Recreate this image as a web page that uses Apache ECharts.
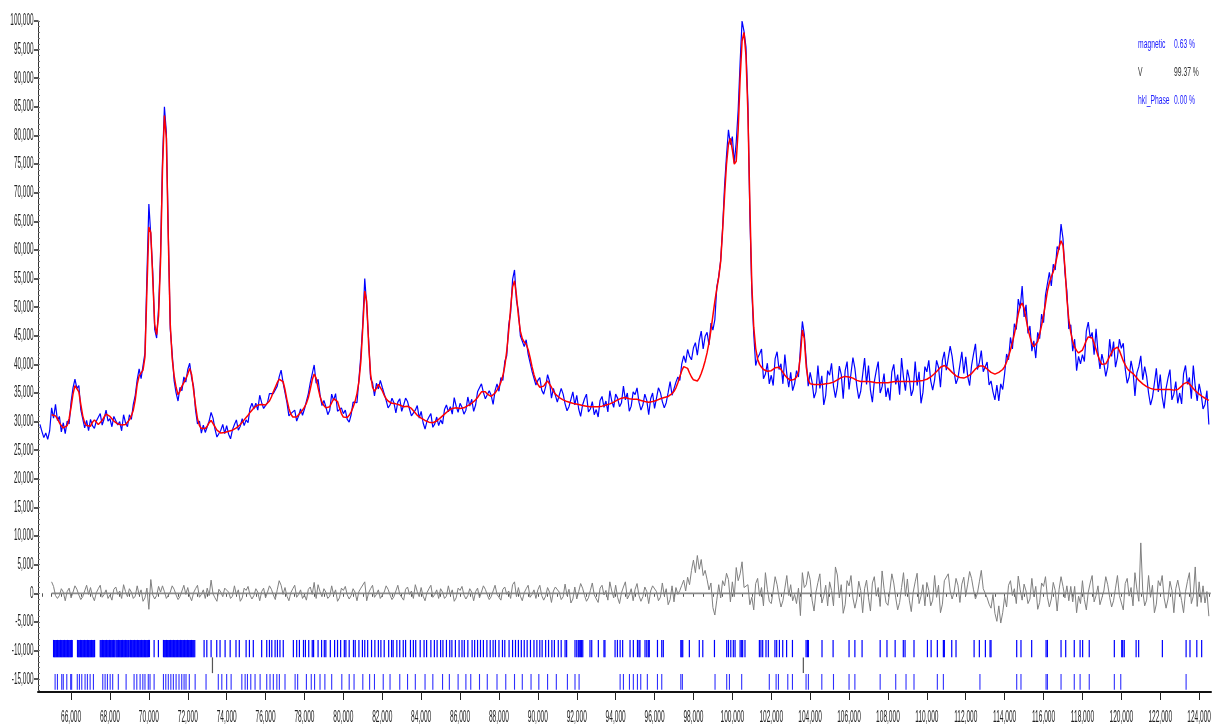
<!DOCTYPE html>
<html>
<head>
<meta charset="utf-8">
<script src="https://cdn.jsdelivr.net/npm/echarts@6/dist/echarts.min.js"></script>
<style>
html,body{margin:0;padding:0;background:#fff;}
#chart{width:1213px;height:725px;}
</style>
</head>
<body>
<div id="chart"></div>
<script>
// ---- DATA (intensity in thousands of counts, 2theta in degrees) ----
const OBS_START = 64.4, CALC_START = 65.0, STEP = 0.1;
const observed = [
29.5,28.3,27.2,28.0,26.9,28.4,
32.4,30.6,33.0,30.2,30.9,28.2,29.8,27.9,30.1,29.6,
33.4,35.9,37.4,35.8,36.3,32.1,31.8,28.9,30.2,28.4,
30.4,29.3,28.8,30.1,30.4,31.4,29.4,30.5,32.0,30.1,
30.5,29.1,30.9,31.1,29.4,30.0,28.4,31.2,29.8,29.1,
31.2,30.4,33.0,34.6,37.3,39.2,37.5,39.8,42.0,55.5,
68.0,62.5,56.2,46.1,44.6,49.8,59.0,75.5,85.0,80.5,
62.8,46.2,41.9,37.1,35.0,33.6,36.0,35.4,37.8,36.9,
39.1,40.2,37.6,36.1,32.0,29.6,30.1,28.0,29.4,28.1,
28.4,30.1,31.6,30.6,28.7,27.3,27.6,28.5,29.5,27.9,
29.3,27.8,27.0,28.6,29.5,30.3,28.5,29.2,30.5,29.3,
30.3,29.8,32.3,33.2,32.2,33.2,32.0,34.6,33.3,32.3,
32.1,33.3,34.9,35.0,34.9,34.9,36.2,37.8,39.0,36.8,
36.6,33.3,31.0,31.4,31.6,32.0,30.1,31.0,32.2,31.1,
32.2,32.0,34.9,36.8,37.1,39.9,36.7,37.4,34.7,32.8,
33.7,32.6,31.2,32.0,34.8,33.7,34.9,31.8,31.5,32.4,
31.4,32.0,30.4,29.9,31.2,33.4,33.7,33.3,37.4,41.6,
47.2,55.0,50.2,44.3,37.5,36.8,34.5,36.7,35.7,37.2,
36.0,36.0,33.7,32.4,32.9,34.1,33.3,31.5,33.4,34.0,
31.8,32.9,34.1,33.5,32.2,31.0,31.2,32.0,32.8,30.6,
31.8,29.8,28.7,30.1,30.8,31.4,29.0,29.6,30.8,29.3,
30.3,29.6,32.1,32.9,31.7,32.6,31.3,34.2,32.7,31.6,
33.2,32.5,31.3,32.0,34.3,32.7,33.9,31.8,32.9,35.2,
35.3,36.6,35.1,34.0,34.3,35.4,34.6,33.0,35.4,36.6,
35.3,37.7,37.2,40.5,41.5,46.8,49.0,54.8,56.5,51.2,
49.3,45.0,45.3,43.1,44.3,41.8,42.0,38.8,39.0,36.4,
37.2,37.7,35.5,34.8,36.1,38.2,37.0,34.1,35.8,36.1,
33.4,34.6,35.8,34.8,33.1,31.9,32.6,33.9,35.2,32.9,
34.6,32.2,30.9,32.9,34.0,34.8,31.7,32.2,33.5,31.2,
32.1,30.8,33.7,34.4,32.5,33.6,31.7,35.4,33.6,32.5,
34.8,34.1,32.6,33.3,36.2,33.8,35.0,31.8,32.7,35.2,
34.7,35.9,33.4,32.0,32.9,34.8,33.7,31.2,34.0,35.0,
32.3,34.1,35.9,35.1,33.5,32.4,33.3,35.1,37.0,34.6,
34.8,36.9,37.8,37.2,40.1,41.5,40.3,42.6,41.4,40.8,
42.9,43.8,41.6,44.2,45.8,42.7,44.9,45.6,43.4,47.2,
46.0,47.8,53.5,55.4,58.2,63.8,71.2,76.5,81.0,78.4,
79.8,75.2,78.8,84.5,92.8,100.0,98.2,95.5,85.6,66.2,
53.0,45.3,39.8,41.1,41.8,42.7,37.5,38.3,40.2,36.6,
38.1,36.3,41.0,42.2,39.1,40.1,36.6,41.7,38.3,36.0,
38.6,35.4,36.6,38.9,37.8,42.8,47.5,45.2,40.6,36.2,
38.6,36.9,34.1,35.2,39.8,35.8,38.0,32.9,34.6,38.9,
38.1,40.2,36.2,34.2,36.1,39.7,38.2,34.0,38.9,40.5,
35.6,38.4,41.2,39.3,36.2,34.0,35.3,38.2,41.1,36.5,
39.8,35.5,33.4,37.0,38.9,40.5,35.0,36.1,38.4,34.3,
35.9,33.7,38.7,40.0,36.5,38.2,34.7,41.1,37.7,35.4,
39.1,37.5,34.5,35.6,40.5,36.3,38.7,33.2,35.1,39.6,
38.7,40.7,37.1,35.5,37.3,40.7,39.5,36.0,40.7,42.2,
39.0,41.1,43.2,41.4,38.7,36.6,37.6,39.9,42.2,38.4,
41.3,37.9,36.3,39.8,41.8,43.6,39.1,40.3,42.4,38.7,
38.7,40.4,36.4,37.1,35.2,33.8,36.4,33.6,36.6,35.6,
38.4,41.8,40.8,44.7,42.7,47.1,46.1,51.4,49.8,53.7,
48.3,50.4,45.4,46.7,42.3,44.1,41.1,45.6,44.5,48.8,
47.3,52.1,52.4,56.1,53.7,57.5,56.5,60.6,60.0,64.5,
62.0,56.0,52.8,46.2,46.9,42.3,44.4,38.9,41.4,40.1,
41.7,40.5,45.8,47.4,44.6,45.6,41.7,46.2,42.1,39.2,
41.8,40.2,37.9,39.5,44.4,41.4,44.0,39.5,41.2,44.4,
42.8,43.7,39.2,36.7,37.8,40.6,38.8,34.5,38.5,39.6,
41.5,37.3,39.6,37.9,35.0,32.9,34.2,36.7,39.3,35.2,
38.2,34.3,32.3,35.8,37.6,39.1,33.8,34.8,37.0,33.2,
35.0,33.1,38.4,39.8,36.5,37.7,34.0,39.8,36.1,33.6,
36.6,34.9,32.2,33.0,35.4,29.5
];
const calculated = [
31.2,31.2,31.0,30.5,29.8,29.3,28.9,28.8,29.3,30.5,
32.5,34.8,36.3,36.4,35.2,33.0,31.0,29.8,29.3,29.0,
29.2,29.9,30.3,30.0,29.5,29.8,30.2,30.8,31.3,31.2,
30.9,30.5,30.1,29.8,29.6,29.5,29.4,29.4,29.5,29.8,
30.3,31.0,32.0,33.8,36.5,38.0,38.2,39.0,41.3,53.0,
64.0,63.0,55.0,47.0,45.2,48.5,58.0,74.0,83.5,79.5,
62.0,47.0,41.0,38.0,36.0,34.7,35.3,36.2,36.8,37.5,
38.3,39.3,38.2,35.5,32.8,30.5,29.3,28.8,28.7,28.8,
29.2,29.8,30.2,29.9,29.1,28.5,28.2,28.0,28.0,28.1,
28.2,28.3,28.4,28.5,28.7,28.9,29.2,29.5,29.9,30.3,
30.7,31.1,31.6,32.0,32.4,32.7,32.9,33.0,33.0,32.9,
32.9,33.1,33.6,34.3,35.2,36.0,36.8,37.4,37.6,37.0,
35.6,33.8,32.3,31.3,30.8,30.6,30.8,31.2,31.6,32.0,
32.5,33.2,34.2,35.7,37.3,38.3,37.6,35.9,34.4,33.4,
32.8,32.4,32.3,32.6,33.3,34.0,34.2,33.5,32.4,31.4,
30.8,30.6,30.7,31.1,31.7,32.5,33.5,34.9,37.0,40.5,
46.5,52.8,51.0,43.5,38.3,36.0,35.3,35.8,36.5,36.3,
35.4,34.6,34.0,33.6,33.4,33.2,33.1,33.1,33.0,32.9,
32.7,32.6,32.6,32.7,32.6,32.3,31.9,31.5,31.1,30.8,
30.6,30.4,30.2,30.0,29.9,29.8,29.8,29.9,30.1,30.4,
30.7,31.0,31.3,31.6,31.9,32.1,32.3,32.4,32.4,32.3,
32.3,32.3,32.4,32.6,32.8,33.0,33.2,33.5,33.8,34.2,
34.7,35.2,35.4,35.2,34.8,34.5,34.4,34.6,35.0,35.5,
36.1,36.9,38.0,39.7,42.3,45.8,49.8,53.5,54.6,52.0,
48.5,45.8,44.5,43.9,43.5,42.6,41.2,39.6,38.2,37.2,
36.5,36.0,35.9,36.2,36.7,37.1,36.8,36.0,35.3,34.8,
34.5,34.2,34.0,33.8,33.6,33.5,33.4,33.3,33.2,33.1,
33.0,33.0,32.9,32.8,32.8,32.7,32.7,32.6,32.6,32.6,
32.6,32.6,32.7,32.7,32.8,32.9,33.0,33.1,33.2,33.4,
33.6,33.8,34.0,34.1,34.2,34.2,34.1,34.0,33.9,33.9,
33.9,33.9,33.8,33.7,33.6,33.5,33.4,33.4,33.4,33.5,
33.6,33.7,33.8,34.0,34.1,34.2,34.3,34.4,34.6,34.9,
35.3,35.9,36.8,37.9,38.9,39.6,39.8,39.3,38.5,37.8,
37.3,37.0,37.1,37.6,38.4,39.4,40.6,42.0,43.8,46.0,
48.5,51.0,53.2,55.2,58.0,63.5,69.5,75.0,78.5,79.5,
77.5,75.0,75.5,81.0,90.0,96.5,98.0,94.0,84.0,68.0,
54.0,46.5,42.8,40.9,40.0,39.5,39.1,38.9,38.8,38.8,
38.9,39.1,39.4,39.6,39.5,39.1,38.6,38.1,37.7,37.4,
37.2,37.2,37.4,37.8,38.7,41.5,46.0,44.5,39.5,37.3,
36.6,36.5,36.5,36.5,36.5,36.5,36.5,36.6,36.6,36.7,
36.7,36.8,36.9,37.1,37.3,37.5,37.7,37.8,37.9,37.9,
37.8,37.7,37.6,37.4,37.2,37.1,37.0,37.0,37.0,37.0,
37.0,36.9,36.9,36.8,36.8,36.8,36.8,36.8,36.8,36.8,
36.8,36.9,36.9,37.0,37.0,37.0,37.0,37.0,37.0,37.0,
37.0,37.0,37.0,37.0,37.0,37.0,37.1,37.1,37.2,37.3,
37.4,37.6,37.8,38.1,38.4,38.7,39.1,39.5,39.8,39.8,
39.6,39.3,39.0,38.6,38.3,38.0,37.8,37.7,37.6,37.6,
37.7,37.9,38.1,38.4,38.8,39.2,39.5,39.7,39.8,39.7,
39.5,39.2,38.9,38.6,38.4,38.3,38.4,38.6,38.8,39.1,
39.6,40.4,41.4,42.5,43.8,45.3,47.0,48.8,50.2,50.7,
49.8,48.0,46.2,44.8,43.7,43.1,43.2,44.0,45.3,46.8,
48.5,50.6,52.8,54.3,55.3,56.2,57.4,58.9,60.5,61.6,
60.8,57.0,51.5,47.8,45.6,44.0,43.0,42.4,42.0,42.0,
42.5,43.3,44.2,44.8,45.0,44.6,43.7,42.6,41.5,40.6,
40.0,39.8,40.1,40.7,41.4,42.0,42.6,42.9,43.0,42.4,
41.5,40.6,39.9,39.3,38.9,38.6,38.4,38.0,37.6,37.2,
36.9,36.6,36.3,36.1,35.9,35.8,35.7,35.6,35.6,35.6,
35.6,35.6,35.6,35.6,35.6,35.6,35.6,35.5,35.5,35.6,
35.9,36.2,36.6,36.9,36.9,36.6,36.2,35.8,35.4,35.1,
34.8,34.6,34.3,34.1,33.9,33.7
];
const difference = [
2.0,1.2,-0.4,-0.9,-0.4,0.8,0.2,-1.3,0.3,0.9,
-0.8,0.2,1.3,0.7,-0.3,-1.1,-0.6,0.4,1.4,-0.2,
1.0,-0.5,-1.3,0.1,0.8,1.4,-0.7,-0.2,0.6,-0.9,
-0.3,-1.2,0.7,1.1,-0.2,0.4,-0.9,1.5,0.3,-0.6,
0.8,0.2,-0.9,-0.5,1.3,-0.3,0.6,-1.4,-0.8,0.9,
-2.8,2.4,-0.3,-1.0,-0.4,1.2,0.2,1.3,0.3,-0.9,
-0.8,0.2,1.3,0.7,-0.3,-1.1,-0.6,0.4,1.4,-0.2,
1.0,-0.5,-1.3,0.1,0.8,1.4,-0.7,-0.2,0.6,-0.9,
0.9,-0.4,2.3,-0.1,-0.8,-1.4,0.7,0.2,-0.6,0.9,
0.8,0.2,-0.9,-0.5,1.3,-0.3,0.6,-1.4,-0.8,0.9,
0.5,1.2,-0.3,-1.0,-0.4,0.8,0.2,-1.3,0.3,0.9,
-0.8,0.2,1.3,0.7,-0.3,-1.1,0.6,2.2,1.4,-0.2,
1.0,-0.5,-1.3,0.1,0.8,1.4,-0.7,-0.2,0.6,-0.9,
-0.3,-1.2,0.7,1.1,-0.2,1.9,-0.9,1.5,0.3,-0.6,
0.8,0.2,-0.9,-0.5,1.3,-0.3,0.6,-1.4,-0.8,0.9,
0.5,1.2,-0.3,-1.0,-0.4,0.8,0.2,-1.3,0.3,0.9,
0.9,2.0,-1.3,0.1,0.8,1.4,-0.7,-0.2,0.6,-0.9,
-0.8,0.2,1.3,0.7,-0.3,-1.1,-0.6,0.4,1.4,-0.2,
-0.3,-1.2,0.7,1.1,-0.2,0.4,-0.9,1.5,0.3,-0.6,
1.0,-0.5,-1.3,0.1,0.8,1.4,-0.7,-0.2,0.6,-0.9,
0.8,0.2,-0.9,-0.5,1.3,-0.3,0.6,-1.4,-0.8,0.9,
0.5,1.2,-0.3,-1.0,-0.4,0.8,0.2,-1.3,0.3,0.9,
-0.8,0.2,1.3,0.7,-0.3,-1.1,-0.6,0.4,1.4,-0.2,
-0.3,-1.2,0.7,1.1,-0.2,0.4,-0.9,1.5,2.0,-0.6,
1.0,-0.5,-1.3,0.1,0.8,1.4,-0.7,-0.2,0.6,-0.9,
0.6,1.4,-0.4,-1.2,-0.5,1.0,0.2,-1.6,0.4,1.1,
1.0,0.2,-1.1,-0.6,1.6,-0.4,0.7,-1.7,-1.0,1.1,
-1.0,0.3,1.7,0.9,-0.4,-1.4,-0.8,0.5,1.8,-0.3,
-0.4,-1.6,0.9,1.4,-0.3,0.5,-1.2,2.0,0.4,-0.8,
1.4,-0.7,-1.8,0.1,1.1,2.0,-1.0,-0.3,0.8,-1.3,
0.7,1.7,-0.4,-1.4,-0.6,1.1,0.3,-1.8,0.4,1.3,
1.1,0.3,-1.3,-0.7,1.8,-0.4,0.8,-2.0,-1.1,1.3,
-1.5,1.0,-0.2,0.5,1.4,2.3,0.4,2.8,1.5,4.0,
5.8,3.6,6.6,4.2,5.9,3.1,4.0,2.4,0.6,1.8,
-2.5,-3.8,-1.2,1.5,-0.8,2.2,1.3,3.5,2.4,-1.5,
2.0,-0.6,4.5,2.2,3.4,5.5,1.0,1.2,1.5,-2.0,
-0.7,-2.9,1.7,2.6,-0.5,1.0,-2.2,3.6,0.7,-1.4,
-1.8,0.4,2.9,1.5,-0.7,-2.4,-1.3,0.9,3.1,-0.4,
1.5,-1.3,-0.2,-1.8,0.9,-3.9,3.6,1.0,1.5,3.8,
2.4,-1.2,-3.1,0.2,1.9,3.4,-1.7,-0.5,1.4,-2.2,
2.0,0.5,-2.2,4.6,3.2,-0.8,1.5,-3.5,-2.0,2.2,
1.3,3.1,-0.8,-2.6,-1.0,2.1,0.5,-3.4,0.8,2.3,
-0.8,-3.1,1.8,2.9,-0.5,1.0,-2.3,3.9,0.8,-1.6,
-2.1,0.5,3.4,1.8,-0.8,-2.9,-1.6,1.0,3.6,-0.5,
2.5,-1.2,-3.2,0.2,2.0,3.5,-1.8,-0.5,1.5,-2.2,
1.9,0.5,-2.2,-1.2,3.1,-0.7,1.4,-3.4,-1.9,2.2,
2.0,3.4,0.4,-1.0,0.2,2.6,1.4,-1.6,1.6,2.8,
-0.4,1.6,3.8,2.6,0.6,-1.0,0.0,2.0,4.0,0.8,
1.0,-0.8,-1.9,-2.6,-0.2,-3.5,-4.9,-2.2,-5.2,-3.4,
-0.6,-2.4,1.4,2.2,-0.4,0.8,-1.8,3.0,0.6,-1.2,
1.6,0.4,-1.8,-1.0,2.6,-0.6,1.2,-2.8,-1.6,1.8,
1.2,2.9,-0.7,-2.4,-1.0,1.9,0.5,-3.1,0.7,2.9,
1.2,-0.8,1.3,-1.3,1.2,-1.5,1.2,-3.4,-0.5,-1.8,
2.2,-1.1,-2.9,0.2,1.8,3.1,-1.5,-0.4,1.3,-2.0,
-1.8,0.4,2.9,1.5,-0.7,-2.4,-1.3,0.9,3.1,-0.4,
-0.7,-2.9,1.7,2.6,-0.5,1.0,-2.2,3.6,0.7,-1.4,
8.8,0.5,-2.2,-1.2,3.1,-0.7,1.4,-3.4,-1.9,2.2,
1.3,3.1,-0.8,-2.6,-1.0,2.1,0.5,-3.4,0.8,2.3,
2.6,-1.3,-3.4,0.3,2.1,3.6,-1.8,-0.5,4.6,-2.3,
2.0,-1.6,1.3,-1.7,0.3,-4.0
];
// reflection (hkl) tick positions, 2theta
const hklMagnetic = [
65.10,65.14,65.18,65.22,65.26,65.30,65.34,65.38,65.42,65.46,65.50,65.54,65.58,65.62,65.66,65.70,65.74,65.78,65.82,65.86,65.90,65.94,65.98,66.02,66.06,
66.33,66.37,66.41,66.45,66.49,66.53,66.57,66.61,66.65,66.69,66.73,66.77,66.81,66.85,66.89,66.93,66.97,67.01,67.05,67.09,67.13,67.17,67.21,
67.50,67.54,67.58,67.62,67.66,67.70,67.74,67.78,67.82,67.86,67.90,67.94,67.98,68.02,68.06,68.10,68.14,68.18,68.22,68.26,68.32,68.36,68.40,68.44,68.48,68.52,68.56,68.60,68.64,68.68,68.72,68.76,68.80,68.84,68.88,68.92,68.96,69.02,69.06,69.10,69.14,69.18,69.22,69.26,69.30,69.34,69.38,69.42,69.46,69.50,69.54,69.58,69.62,69.66,69.70,69.74,69.78,69.82,69.86,69.90,69.94,69.98,70.03,
70.27,70.49,
70.75,70.79,70.83,70.87,70.91,70.95,70.99,71.03,71.07,71.11,71.15,71.19,71.23,71.27,71.31,71.35,71.39,71.43,71.47,71.51,71.55,71.59,71.63,71.67,71.71,71.75,71.79,71.83,71.87,71.91,71.95,71.99,72.03,72.07,72.11,72.15,72.19,72.23,72.27,72.31,72.36,
72.84,72.98,73.20,73.49,73.66,73.92,74.18,74.48,74.65,75.00,75.17,75.37,75.80,
76.06,76.20,76.32,76.49,76.61,76.74,76.91,77.43,77.60,77.74,
77.95,78.05,78.22,78.40,78.47,78.70,78.88,79.02,79.10,79.33,79.55,79.70,79.86,80.05,80.13,80.30,80.52,80.61,80.80,80.98,81.10,81.25,81.45,81.62,81.80,81.93,82.10,82.33,82.48,82.56,82.75,82.90,83.08,83.20,83.45,83.60,83.72,83.95,84.15,84.28,84.50,84.68,84.82,85.00,85.12,85.30,85.47,85.58,85.76,85.95,86.10,86.22,86.40,86.62,86.75,86.90,87.05,87.20,87.38,87.55,87.70,87.82,88.00,88.18,88.30,88.52,88.70,88.85,89.00,89.15,89.30,89.45,89.62,89.80,89.95,90.10,90.22,90.40,90.55,90.72,90.85,91.05,91.20,
91.40,91.48,91.91,92.00,92.08,92.13,92.20,92.25,92.31,92.68,92.77,93.11,93.40,93.45,93.97,94.09,94.23,94.36,94.74,94.91,95.12,95.20,95.25,95.51,95.60,95.68,95.73,96.15,96.37,96.45,97.35,97.40,97.45,97.79,98.30,98.48,99.08,99.71,99.80,99.92,100.05,100.14,100.40,100.48,100.53,100.65,101.39,101.47,101.56,101.73,101.85,102.19,102.28,102.42,102.59,102.79,103.09,103.79,103.86,103.91,
104.61,105.18,106.00,106.30,106.67,107.60,107.95,108.37,
108.79,108.88,109.34,110.03,110.22,110.54,110.85,110.90,111.28,111.50,112.43,112.70,113.01,113.25,113.30,114.62,114.84,115.39,116.13,116.20,116.90,117.14,117.58,117.88,118.01,118.35,119.64,120.02,120.07,120.15,120.76,120.89,122.11,123.33,123.53,123.88,124.13
];
const hklV = [73.27, 103.65];
const hklPhase = [
65.18,65.30,65.52,65.60,65.78,65.98,66.03,66.32,66.43,66.55,66.72,66.84,66.98,67.15,67.63,67.75,67.87,68.01,68.14,68.43,68.83,69.24,69.38,69.55,69.69,69.80,69.97,70.06,70.27,70.75,70.87,71.00,71.13,71.26,71.40,71.55,71.69,71.81,71.91,72.08,72.38,72.94,73.57,73.75,74.00,74.23,74.78,74.95,75.07,75.24,75.46,75.72,76.06,76.23,76.40,76.58,76.71,77.00,77.52,77.65,
78.10,78.35,78.52,78.80,79.05,79.40,79.92,80.30,80.55,81.00,81.35,81.60,82.05,82.40,82.90,83.30,83.70,84.20,84.60,85.10,85.45,85.90,86.30,86.55,87.00,87.40,87.90,88.35,88.80,89.20,89.65,90.05,90.50,90.95,
91.52,91.91,92.12,94.23,94.40,94.71,94.91,95.12,95.29,95.63,96.15,96.37,97.35,97.43,99.11,99.71,99.85,100.48,101.90,102.25,102.37,102.85,103.09,103.79,103.91,
104.60,105.20,106.00,106.30,107.60,108.40,
108.93,109.34,110.54,110.85,112.73,114.62,114.84,116.13,116.20,116.90,117.58,117.88,118.35,119.64,119.97,123.33
];
const xTickValues = [66,68,70,72,74,76,78,80,82,84,86,88,90,92,94,96,98,100,102,104,106,108,110,112,114,116,118,120,122,124];
const yTickValues = [-15,-10,-5,0,5,10,15,20,25,30,35,40,45,50,55,60,65,70,75,80,85,90,95,100];
const legendNames = ['magnetic', 'V', 'hkl_Phase'];
const legendValues = ['0.63 %', '99.37 %', '0.00 %'];
const legendColors = ['#2020ff', '#333333', '#2020ff'];

// ---- build ----
const X_MIN = 64.30, X_MAX = 124.61, Y_MIN = -17.25, Y_MAX = 100;
const r2 = v => Math.round(v * 100) / 100;
const obsData = observed.map((v, i) => [r2(OBS_START + i * STEP), v]);
const calcData = calculated.map((v, i) => [r2(CALC_START + i * STEP), v]);
const diffData = difference.map((v, i) => [r2(CALC_START + i * STEP), v]);
const minorX = []; for (let v = 64.5; v <= 124.5; v += 0.5) minorX.push(v);
const minorY = []; for (let v = -17; v <= 100; v += 1) minorY.push(v);

const fmtX = v => v.toFixed(3).replace('.', ',');
const fmtY = v => Math.round(v * 1000).toLocaleString('en-US');
const FONT = '"Liberation Sans", Arial, sans-serif';

function tickRow(data, y0, y1, color, w) {
  return {
    type: 'custom', silent: true, clip: false, z: 4,
    data: data.map(v => [v, y0, y1]),
    renderItem: (p, api) => {
      const a = api.coord([api.value(0), api.value(1)]);
      const b = api.coord([api.value(0), api.value(2)]);
      return { type: 'line', shape: { x1: a[0], y1: a[1], x2: b[0], y2: b[1] },
               style: { stroke: color, lineWidth: w } };
    }
  };
}

const chart = echarts.init(document.getElementById('chart'), null, { renderer: 'canvas' });
chart.setOption({
  animation: false,
  backgroundColor: '#ffffff',
  grid: { left: 38, right: 2, top: 21, bottom: 33, containLabel: false },
  xAxis: [
    { type: 'value', min: X_MIN, max: X_MAX, splitLine: { show: false },
      axisLine: { show: true, onZero: false, lineStyle: { color: '#111', width: 2 } },
      axisTick: { show: true, customValues: xTickValues, length: 8, lineStyle: { color: '#222', width: 1 } },
      axisLabel: { show: false } },
    { type: 'value', min: X_MIN, max: X_MAX, position: 'bottom', splitLine: { show: false },
      axisLine: { show: false },
      axisTick: { show: true, customValues: minorX, length: 3.5, lineStyle: { color: '#555', width: 1 } },
      axisLabel: { show: false } }
  ],
  yAxis: [
    { type: 'value', min: Y_MIN, max: Y_MAX, splitLine: { show: false },
      axisLine: { show: true, onZero: false, lineStyle: { color: '#333', width: 1 } },
      axisTick: { show: true, customValues: yTickValues, length: 4, lineStyle: { color: '#222', width: 1.5 } },
      axisLabel: { show: false } },
    { type: 'value', min: Y_MIN, max: Y_MAX, position: 'left', splitLine: { show: false },
      axisLine: { show: false },
      axisTick: { show: true, inside: true, customValues: minorY, length: 2, lineStyle: { color: '#777', width: 1 } },
      axisLabel: { show: false } }
  ],
  series: [
    { name: 'observed', type: 'line', data: obsData, showSymbol: false, clip: false, z: 2,
      lineStyle: { color: '#0000ff', width: 1.2 }, silent: true },
    { name: 'calculated', type: 'line', data: calcData, showSymbol: false, clip: false, z: 3,
      lineStyle: { color: '#ff0000', width: 1.5 }, silent: true },
    { name: 'zero', type: 'line', data: [[CALC_START, 0], [X_MAX - 0.01, 0]], showSymbol: false, z: 2,
      lineStyle: { color: '#8a8a8a', width: 1.8 }, silent: true },
    { name: 'difference', type: 'line', data: diffData, showSymbol: false, clip: false, z: 3,
      lineStyle: { color: '#808080', width: 1 }, silent: true },
    tickRow(hklMagnetic, -8.15, -11.17, '#0000ff', 1.2),
    tickRow(hklV, -11.2, -13.95, '#555555', 1.2),
    tickRow(hklPhase, -14.1, -16.85, '#2f2fff', 1.1),
    { type: 'custom', silent: true, clip: false, z: 5,
      data: xTickValues.map(v => [v, Y_MIN]),
      renderItem: (p, api) => {
        const c = api.coord([api.value(0), api.value(1)]);
        return { type: 'text', x: c[0], y: c[1] + 25.5, scaleX: 0.41,
          style: { text: fmtX(api.value(0)), font: '16px ' + FONT, fill: '#222', align: 'center', verticalAlign: 'middle' } };
      } },
    { type: 'custom', silent: true, clip: false, z: 5,
      data: yTickValues.map(v => [X_MIN, v]),
      renderItem: (p, api) => {
        const c = api.coord([api.value(0), api.value(1)]);
        return { type: 'text', x: c[0] - 4.5, y: c[1], scaleX: 0.40,
          style: { text: fmtY(api.value(1)), font: '16px ' + FONT, fill: '#222', align: 'right', verticalAlign: 'middle' } };
      } }
  ],
  graphic: legendNames.flatMap((n, i) => [
    { type: 'text', x: 1138, y: 44 + i * 28.3, scaleX: 0.52,
      style: { text: n, font: '13px ' + FONT, fill: legendColors[i], verticalAlign: 'middle' } },
    { type: 'text', x: 1174, y: 44 + i * 28.3, scaleX: 0.52,
      style: { text: legendValues[i], font: '13px ' + FONT, fill: legendColors[i], verticalAlign: 'middle' } }
  ])
});
</script>
</body>
</html>
